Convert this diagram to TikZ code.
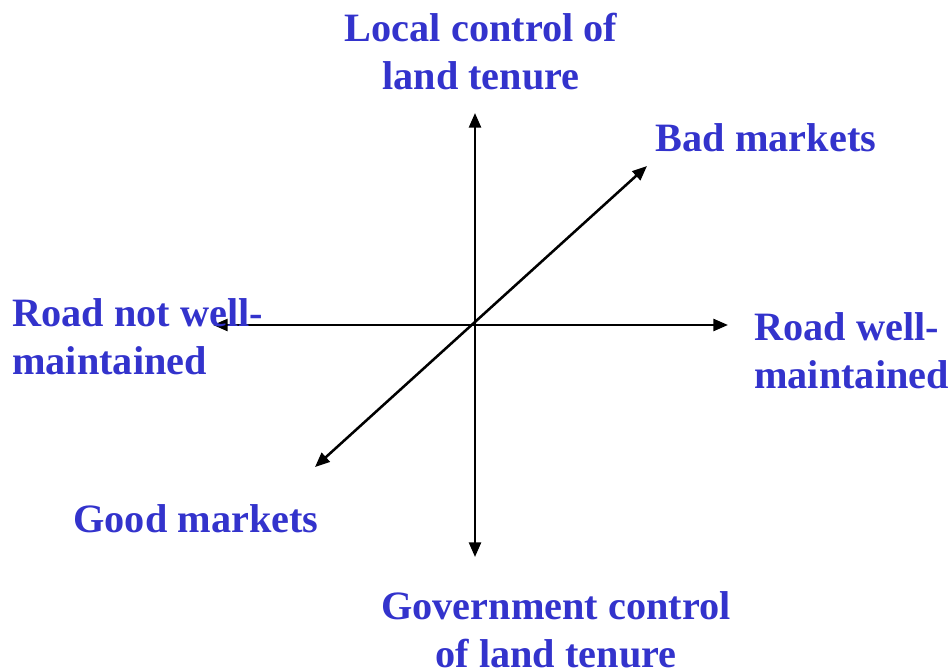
\documentclass[tikz,border=0pt]{standalone}
\usepackage{fontspec}
\setmainfont{Liberation Serif}
\usepackage{tikz}
\usetikzlibrary{arrows.meta}
\definecolor{LabelBlue}{RGB}{51,51,204}
\tikzset{lbl/.style={text=LabelBlue, font=\fontsize{30.2}{36}\selectfont\bfseries, inner sep=0pt},
    axis/.style={line width=1.9pt, {Triangle[length=11pt,width=9pt]}-{Triangle[length=11pt,width=9pt]}}}

\begin{document}
\begin{tikzpicture}[x=0.75pt, y=-0.75pt]
        \useasboundingbox (0,0) rectangle (949,671);

        \coordinate (up) at (475,113);
        \coordinate (down) at (475,557);
        \coordinate (west) at (213,325);
        \coordinate (east) at (728,325);
        \coordinate (ne) at (647,166);
        \coordinate (sw) at (315,467);

        \draw[axis] (up) -- (down);
        \draw[axis] (west) -- (east);
        \draw[axis] (sw) -- (ne);

        \node[lbl, align=center] (local) at (481,52) {Local control of\\land tenure};
        \node[lbl] (bad) at (766,138) {Bad markets};
        \node[lbl, align=left, anchor=west] (notwell) at (12,337) {Road not well-\\maintained};
        \node[lbl, align=left, anchor=west] (well) at (754,351) {Road well-\\maintained};
        \node[lbl] (good) at (196,519) {Good markets};
        \node[lbl, align=center] (gov) at (556,630) {Government control\\of land tenure};
    \end{tikzpicture}
\end{document}
